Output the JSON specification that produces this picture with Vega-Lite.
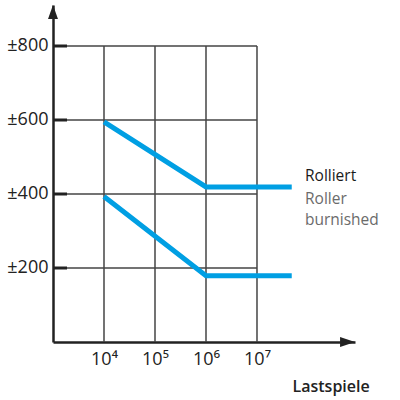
{
  "$schema": "https://vega.github.io/schema/vega-lite/v6.json",
  "width": 302,
  "height": 337,
  "padding": {"left": 53, "top": 5, "right": 45, "bottom": 58},
  "autosize": "none",
  "background": "white",
  "config": {
    "view": {"stroke": null},
    "font": "Open Sans",
    "axis": {
      "labelFontSize": 18, "labelColor": "#222", "labelFont": "Open Sans",
      "titleFontSize": 16, "titleColor": "#222", "titleFont": "Open Sans",
      "domainColor": "#222", "domainWidth": 2.5,
      "grid": false, "ticks": false, "tickSize": 0
    }
  },
  "datasets": {
    "grid": [
      {"x": 10000, "x2": 10000, "y": 0, "y2": 800},
      {"x": 100000, "x2": 100000, "y": 0, "y2": 800},
      {"x": 1000000, "x2": 1000000, "y": 0, "y2": 800},
      {"x": 10000000, "x2": 10000000, "y": 0, "y2": 800},
      {"x": 1000, "x2": 10000000, "y": 200, "y2": 200},
      {"x": 1000, "x2": 10000000, "y": 400, "y2": 400},
      {"x": 1000, "x2": 10000000, "y": 600, "y2": 600},
      {"x": 1000, "x2": 10000000, "y": 800, "y2": 800}
    ],
    "ticks": [
      {"x": 1000, "x2": 1884, "y": 200},
      {"x": 1000, "x2": 1884, "y": 400},
      {"x": 1000, "x2": 1884, "y": 600},
      {"x": 1000, "x2": 1884, "y": 800}
    ],
    "lines": [
      {"series": "upper", "x": 10000, "y": 595},
      {"series": "upper", "x": 1000000, "y": 419},
      {"series": "upper", "x": 48000000, "y": 419},
      {"series": "lower", "x": 10000, "y": 393},
      {"series": "lower", "x": 1000000, "y": 179},
      {"series": "lower", "x": 48000000, "y": 179}
    ],
    "arrowUp": [{"x": 1000, "y": 892}],
    "arrowRight": [{"x": 596000000, "y": 0}],
    "legend": [
      {"x": 87300000, "y": 448, "label": "Rolliert", "kind": "de"},
      {"x": 87300000, "y": 387, "label": "Roller", "kind": "en"},
      {"x": 87300000, "y": 330, "label": "burnished", "kind": "en"}
    ]
  },
  "layer": [
    {
      "data": {"name": "grid"},
      "mark": {"type": "rule", "color": "#444", "strokeWidth": 1.5},
      "encoding": {
        "x": {
          "field": "x", "type": "quantitative",
          "scale": {"type": "log", "domain": [1000, 835000000], "nice": false, "zero": false},
          "axis": {
            "values": [10000, 100000, 1000000, 10000000],
            "labelExpr": "datum.value == 10000 ? '10⁴' : datum.value == 100000 ? '10⁵' : datum.value == 1000000 ? '10⁶' : '10⁷'",
            "labelFontSize": 18, "labelPadding": 8,
            "title": "Lastspiele", "titleFontSize": 16, "titleFontWeight": 600,
            "titleX": 239, "titleY": 44, "titleAlign": "left", "titleBaseline": "middle"
          }
        },
        "x2": {"field": "x2"},
        "y": {
          "field": "y", "type": "quantitative",
          "scale": {"domain": [0, 910.8], "nice": false, "zero": false},
          "axis": {
            "values": [200, 400, 600, 800],
            "labelExpr": "'±' + datum.value",
            "labelFontSize": 18, "labelPadding": 5,
            "title": null
          }
        },
        "y2": {"field": "y2"}
      }
    },
    {
      "data": {"name": "ticks"},
      "mark": {"type": "rule", "color": "#222", "strokeWidth": 3},
      "encoding": {
        "x": {"field": "x", "type": "quantitative"},
        "x2": {"field": "x2"},
        "y": {"field": "y", "type": "quantitative"}
      }
    },
    {
      "data": {"name": "lines"},
      "mark": {"type": "line", "color": "#009fe3", "strokeWidth": 5, "strokeCap": "butt"},
      "encoding": {
        "x": {"field": "x", "type": "quantitative"},
        "y": {"field": "y", "type": "quantitative"},
        "detail": {"field": "series"}
      }
    },
    {
      "data": {"name": "arrowUp"},
      "mark": {"type": "point", "shape": "M0,-1L0.71,1L-0.71,1Z", "size": 196, "filled": true, "color": "#222", "opacity": 1},
      "encoding": {
        "x": {"field": "x", "type": "quantitative"},
        "y": {"field": "y", "type": "quantitative"}
      }
    },
    {
      "data": {"name": "arrowRight"},
      "mark": {"type": "point", "shape": "M1,0L-1,0.67L-1,-0.67Z", "size": 225, "filled": true, "color": "#222", "opacity": 1},
      "encoding": {
        "x": {"field": "x", "type": "quantitative"},
        "y": {"field": "y", "type": "quantitative"}
      }
    },
    {
      "data": {"name": "legend"},
      "mark": {"type": "text", "align": "left", "baseline": "middle", "fontSize": 15.5, "font": "Open Sans"},
      "encoding": {
        "x": {"field": "x", "type": "quantitative"},
        "y": {"field": "y", "type": "quantitative"},
        "text": {"field": "label"},
        "color": {"field": "kind", "type": "nominal", "scale": {"domain": ["de", "en"], "range": ["#1a1a1a", "#6b6b6b"]}, "legend": null},
        "fontWeight": {"field": "kind", "type": "nominal", "scale": {"domain": ["de", "en"], "range": [600, 400]}, "legend": null}
      }
    }
  ]
}
